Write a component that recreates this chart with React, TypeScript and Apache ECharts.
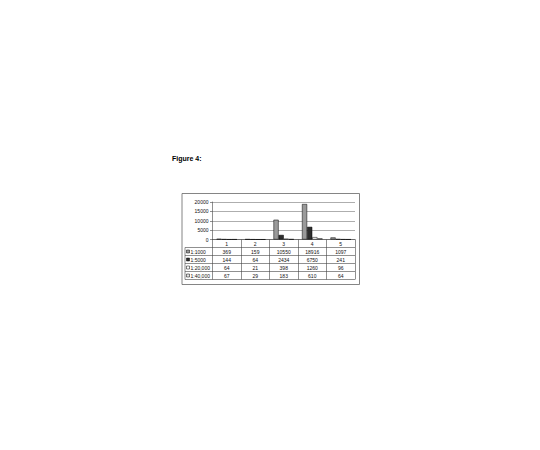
import * as echarts from 'echarts';
import { useEffect, useRef } from 'react';

const categories = ['1', '2', '3', '4', '5'];
const seriesNames = ['1:1000', '1:5000', '1:20,000', '1:40,000'];
const values1000 = [369, 159, 10550, 18916, 1097];
const values5000 = [144, 64, 2434, 6750, 241];
const values20000 = [64, 21, 398, 1260, 96];
const values40000 = [67, 29, 183, 610, 64];
const seriesColors = ['#9a9a9a', '#2e2e2e', '#ffffff', '#e4e4e4'];

const FONT = 'Liberation Sans, Arial, sans-serif';
// layout of the plot and the data table under it
const plotLeft = 212.5;
const plotRight = 355;
const plotTop = 202;
const plotBottom = 239.5;
const tableLeft = 185;
const rowHeight = 8;
const firstRowTop = 247.5;

const App = () => {
  const chartRef = useRef<HTMLDivElement>(null);

  useEffect(() => {
    let chart: echarts.ECharts | null = null;
    if (chartRef.current !== null) {
      chart = echarts.init(chartRef.current, null, { renderer: 'svg' });
    }

    const allValues = [values1000, values5000, values20000, values40000];
    const colWidth = (plotRight - plotLeft) / categories.length;
    const tableBottom = firstRowTop + rowHeight * seriesNames.length;

    const graphics: any[] = [
      {
        type: 'text',
        x: 172,
        y: 158,
        style: { text: 'Figure 4:', font: `bold 7px ${FONT}`, fill: '#000', verticalAlign: 'middle' },
      },
      {
        type: 'rect',
        shape: { x: 182, y: 193.5, width: 177.5, height: 91 },
        style: { fill: 'none', stroke: '#666', lineWidth: 0.8 },
      },
      {
        type: 'line',
        shape: { x1: tableLeft, y1: firstRowTop, x2: tableLeft, y2: tableBottom },
        style: { stroke: '#444', lineWidth: 0.6 },
      },
    ];

    for (let r = 0; r <= seriesNames.length; r++) {
      const y = firstRowTop + r * rowHeight;
      graphics.push({
        type: 'line',
        shape: { x1: tableLeft, y1: y, x2: plotRight, y2: y },
        style: { stroke: '#444', lineWidth: 0.6 },
      });
    }

    seriesNames.forEach((name, r) => {
      const cy = firstRowTop + r * rowHeight + rowHeight / 2;
      graphics.push({
        type: 'rect',
        shape: { x: 186.5, y: cy - 1.5, width: 3, height: 3 },
        style: { fill: seriesColors[r], stroke: '#000', lineWidth: 0.5 },
      });
      graphics.push({
        type: 'text',
        x: 190.5,
        y: cy,
        style: { text: name, font: `5px ${FONT}`, fill: '#111', verticalAlign: 'middle' },
      });
      allValues[r].forEach((v, c) => {
        graphics.push({
          type: 'text',
          x: plotLeft + (c + 0.5) * colWidth,
          y: cy,
          style: { text: String(v), font: `5px ${FONT}`, fill: '#111', align: 'center', verticalAlign: 'middle' },
        });
      });
    });

    chart?.setOption({
      animation: false,
      backgroundColor: '#fff',
      grid: {
        left: plotLeft,
        right: 540 - plotRight,
        top: plotTop,
        bottom: 450 - plotBottom,
        containLabel: false,
      },
      xAxis: {
        type: 'category',
        data: categories,
        axisLine: { lineStyle: { color: '#444', width: 0.6 } },
        // category ticks run down through the table as its column lines
        axisTick: { show: true, length: tableBottom - plotBottom, lineStyle: { color: '#444', width: 0.6 } },
        axisLabel: { fontSize: 5, fontFamily: FONT, color: '#111', margin: 2 },
        splitLine: { show: false },
      },
      yAxis: {
        type: 'value',
        min: 0,
        max: 20000,
        interval: 5000,
        axisLine: { show: true, lineStyle: { color: '#444', width: 0.6 } },
        axisTick: { show: true, length: 2.5, lineStyle: { color: '#444', width: 0.6 } },
        axisLabel: {
          fontSize: 5,
          fontFamily: FONT,
          color: '#111',
          margin: 4,
          formatter: (v: number) => String(v),
        },
        splitLine: { show: true, lineStyle: { color: '#777', width: 0.6 } },
      },
      series: seriesNames.map((name, i) => ({
        name,
        type: 'bar',
        data: allValues[i],
        barGap: '0%',
        barCategoryGap: '28%',
        itemStyle: { color: seriesColors[i], borderColor: '#000', borderWidth: 0.5 },
      })),
      graphic: graphics,
    });

    return () => {
      chart?.dispose();
      chart = null;
    };
  }, []);

  return (
    <div
      ref={chartRef}
      style={{ position: 'absolute', left: 0, top: 0, width: 540, height: 450 }}
    ></div>
  );
};

export default App;
